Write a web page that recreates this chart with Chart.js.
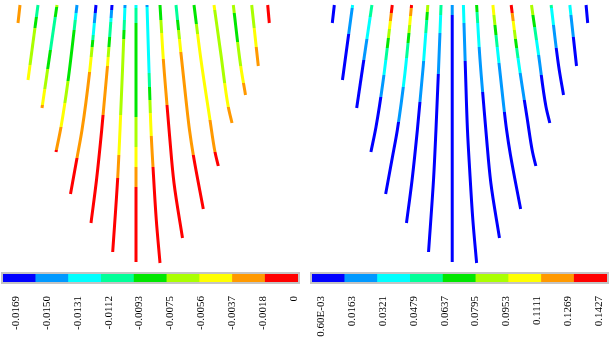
<!DOCTYPE html>
<html>
<head>
<meta charset="utf-8">
<script src="https://cdn.jsdelivr.net/npm/chart.js@4"></script>
<style>
  body { margin: 0; background: #fff; }
  canvas { position: absolute; }
</style>
</head>
<body>
<canvas id="leftLines" width="306" height="270" style="left:0;top:0"></canvas>
<canvas id="rightLines" width="311" height="270" style="left:314px;top:0"></canvas>
<canvas id="leftBar" width="306" height="71" style="left:0;top:270px"></canvas>
<canvas id="rightBar" width="306" height="71" style="left:306px;top:270px"></canvas>
<script>
// colour levels of the legend (blue -> red)
const levelColors = ['#0000ff', '#0099ff', '#00ffff', '#00ff99', '#00e600', '#aaff00', '#ffff00', '#ff9900', '#ff0000'];
const barSpan = [1, 1, 1, 1, 1, 1, 1, 1, 1];
const leftTicks = ['-0.0169', '-0.0150', '-0.0131', '-0.0112', '-0.0093', '-0.0075', '-0.0056', '-0.0037', '-0.0018', '0'];
const rightTicks = ['0.60E-03', '0.0163', '0.0321', '0.0479', '0.0637', '0.0795', '0.0953', '0.1111', '0.1269', '0.1427'];

// shape of the 16 lines: lateral position and depth of some points
const lineX = [
  [-116, -118],
  [-98, -108],
  [-79, -94],
  [-59, -68, -75, -80],
  [-40, -46.5, -54, -59, -65.5],
  [-24, -28.5, -34.3, -39.5, -45],
  [-11, -13.5, -16, -18.3, -23.3],
  [0, 0],
  [11, 13, 15, 17, 20.3, 24],
  [24, 27.3, 31, 33.5, 38, 46.5],
  [40, 44.7, 50, 53.5, 57.3, 67.3],
  [58, 65, 74, 79, 82.3],
  [78, 85, 92.3, 96],
  [97.3, 104.7, 109.5],
  [115.7, 122.3],
  [131.7, 133.3]
];
const lineDepth = [
  [5, 23],
  [5, 80],
  [5, 108],
  [5, 81, 127, 152],
  [5, 73, 130, 158, 194],
  [5, 66, 130, 180, 223],
  [5, 70, 130, 178, 252],
  [5, 262],
  [5, 70, 130, 167, 220, 263],
  [5, 59, 105, 135, 183, 238],
  [5, 51, 100, 130, 155, 209],
  [5, 60, 120, 152, 166],
  [5, 55, 107, 123],
  [5, 66, 95],
  [5, 66],
  [5, 23]
];

// colour bands along each line: [start depth, level]
const leftBands = [
  [[0, 7]],
  [[0, 3], [17, 4], [28, 5], [65, 6]],
  [[0, 5], [7, 4], [17, 3], [50, 4], [69, 5], [89, 6], [105, 7]],
  [[0, 1], [13, 2], [20, 3], [30, 4], [81, 5], [103, 6], [127, 7], [150, 8]],
  [[0, 0], [13, 1], [23, 2], [35, 3], [40, 4], [47, 5], [57, 6], [72, 7], [158, 8]],
  [[0, 0], [10, 1], [18, 2], [22, 3], [37, 4], [47, 5], [57, 6], [66, 7], [115, 8]],
  [[0, 1], [8, 2], [20, 3], [30, 4], [39, 5], [115, 6], [155, 7], [178, 8]],
  [[0, 2], [8, 3], [23, 4], [117, 5], [147, 6], [167, 7], [187, 8]],
  [[0, 1], [7, 2], [73, 3], [87, 4], [100, 5], [113, 6], [136, 7], [167, 8]],
  [[0, 4], [20, 5], [33, 6], [59, 7], [105, 8]],
  [[0, 3], [20, 4], [30, 5], [39, 6], [52, 7], [155, 8]],
  [[0, 4], [24, 5], [34, 6], [120, 7], [152, 8]],
  [[0, 6], [10, 5], [83, 6], [107, 7]],
  [[0, 5], [13, 4], [42, 5], [66, 6], [83, 7]],
  [[0, 5], [28, 6], [47, 7]],
  [[0, 8]]
];
const rightBands = [
  [[0, 0]],
  [[0, 2], [8, 1], [34, 0]],
  [[0, 3], [17, 2], [39, 1], [60, 0]],
  [[0, 8], [13, 7], [21, 6], [29, 5], [38, 4], [48, 3], [60, 2], [75, 1], [97, 0]],
  [[0, 8], [8, 7], [16, 6], [25, 5], [33, 4], [43, 3], [58, 2], [87, 1], [122, 0]],
  [[0, 5], [12, 4], [20, 3], [33, 2], [61, 1], [102, 0]],
  [[0, 3], [15, 2], [33, 1], [74, 0]],
  [[0, 1], [15, 0]],
  [[0, 2], [23, 1], [61, 0]],
  [[0, 4], [12, 3], [23, 2], [47, 1], [92, 0]],
  [[0, 6], [15, 5], [25, 4], [35, 3], [47, 2], [63, 1], [112, 0]],
  [[0, 8], [13, 7], [21, 6], [30, 5], [39, 4], [48, 3], [58, 2], [73, 1], [100, 0]],
  [[0, 5], [15, 4], [27, 3], [40, 2], [55, 1], [75, 0]],
  [[0, 3], [8, 2], [25, 1], [48, 0]],
  [[0, 2], [15, 1], [37, 0]],
  [[0, 0]]
];

const depthMax = 270;

// vertical gradient with hard stops, positioned through the y scale
function bandGradient(chart, bands) {
  const ys = chart.scales.y;
  const fallback = levelColors[bands[0][1]];
  if (!ys || !chart.chartArea) return fallback;
  const top = ys.getPixelForValue(0), bottom = ys.getPixelForValue(depthMax);
  if (!Number.isFinite(top) || !Number.isFinite(bottom) || top === bottom) return fallback;
  const g = chart.ctx.createLinearGradient(0, top, 0, bottom);
  const off = d => Math.min(1, Math.max(0, (ys.getPixelForValue(d) - top) / (bottom - top)));
  bands.forEach((b, k) => {
    const end = k + 1 < bands.length ? bands[k + 1][0] : depthMax;
    const c = levelColors[b[1]];
    g.addColorStop(off(b[0]), c);
    g.addColorStop(off(end), c);
  });
  return g;
}

function drawLines(id, bands) {
  new Chart(document.getElementById(id), {
    type: 'line',
    data: {
      datasets: lineX.map((xs, i) => ({
        data: xs.map((x, k) => ({ x: x, y: lineDepth[i][k] })),
        borderColor: ctx => bandGradient(ctx.chart, bands[i]),
        borderWidth: 3,
        borderCapStyle: 'butt',
        pointRadius: 0,
        cubicInterpolationMode: 'monotone',
        fill: false
      }))
    },
    options: {
      indexAxis: 'y',
      responsive: false,
      animation: false,
      layout: { padding: 0 },
      plugins: { legend: { display: false }, tooltip: { enabled: false } },
      scales: {
        x: { type: 'linear', min: -136, max: 170, display: false },
        y: { type: 'linear', min: 0, max: depthMax, reverse: true, display: false }
      }
    }
  });
}

const frame = {
  id: 'frame',
  afterDraw(chart) {
    const a = chart.chartArea, c = chart.ctx;
    c.save();
    c.strokeStyle = '#c4c4c4';
    c.lineWidth = 2;
    c.strokeRect(a.left - 1, a.top - 1, a.right - a.left + 2, a.bottom - a.top + 2);
    c.restore();
  }
};

function drawBar(id, ticks, padLeft, padRight, tMin, tMax) {
  new Chart(document.getElementById(id), {
    type: 'bar',
    data: {
      labels: levelColors.map((c, i) => 'L' + i),
      datasets: [{
        data: barSpan,
        backgroundColor: levelColors,
        borderWidth: 0,
        barPercentage: 1,
        categoryPercentage: 1
      }]
    },
    options: {
      responsive: false,
      animation: false,
      layout: { padding: { left: padLeft, right: padRight, top: 4, bottom: 0 } },
      plugins: { legend: { display: false }, tooltip: { enabled: false } },
      scales: {
        x: { display: false },
        y: { display: false, min: 0, max: 1 },
        x2: {
          type: 'linear',
          position: 'bottom',
          offset: false,
          min: tMin,
          max: tMax,
          border: { display: false },
          grid: { display: false, drawTicks: false, offset: false },
          afterBuildTicks: s => { s.ticks = ticks.map((t, i) => ({ value: i })); },
          afterFit: s => { s.height = 59; s.paddingLeft = 0; s.paddingRight = 0; },
          ticks: {
            autoSkip: false,
            minRotation: 90,
            maxRotation: 90,
            padding: 14,
            color: '#000',
            font: { family: 'Liberation Serif', size: 11 },
            callback: (v, i) => ticks[i]
          }
        }
      }
    },
    plugins: [frame]
  });
}

drawLines('leftLines', leftBands);
drawLines('rightLines', rightBands);
drawBar('leftBar', leftTicks, 3, 8, -0.42, 9.13);
drawBar('rightBar', rightTicks, 6, 5, -0.29, 9.25);
</script>
</body>
</html>
